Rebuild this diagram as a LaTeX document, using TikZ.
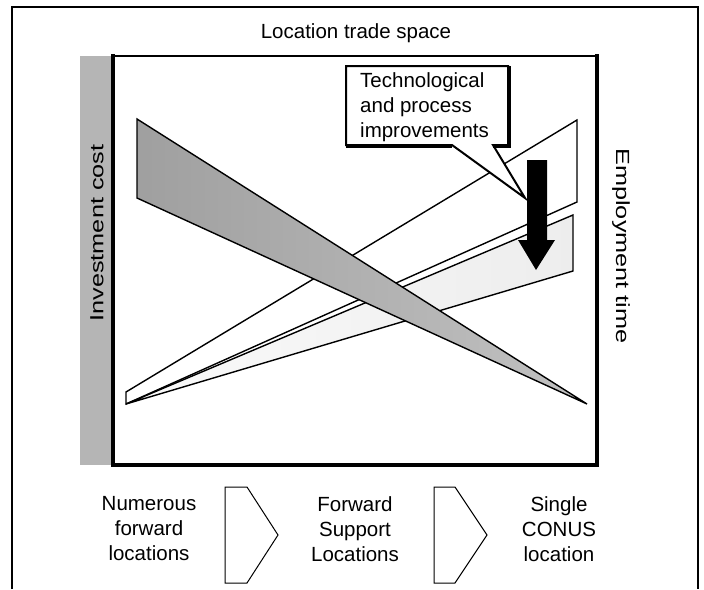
\documentclass[tikz,border=0pt]{standalone}
\usepackage{fontspec}
\setmainfont{Liberation Sans}
\usepackage{graphicx}
\begin{document}
\begin{tikzpicture}[x=1pt,y=-1pt,
  txt/.style={font=\fontsize{20.5}{25}\selectfont, inner sep=0pt, text=black},
  wedge/.style={draw=black, line width=1.4pt, line join=miter},
  chev/.style={draw=black, line width=1pt, fill=white},
  sidelabel/.style={font=\fontsize{19}{22}\selectfont, inner sep=0pt}
]
\useasboundingbox (0,0) rectangle (704,589);
% outer frame (open at bottom)
\draw[line width=1.2pt] (12,589) -- (12,7) -- (698,7) -- (698,589);
% title
\node[txt, anchor=base] (title) at (356,38) {Location trade space};
% gray strip
\fill[gray!58] (80,56) rectangle (113,465);
\node[sidelabel, rotate=90] (invcost) at (97,233) {\scalebox{1.33}[1]{Investment cost}};
% wedges
\draw[wedge, fill=white] (126,392) -- (577,120) -- (577,202) -- (126,404) -- cycle;
\draw[wedge, left color=gray!4, right color=gray!14] (126,404) -- (573,215) -- (573,271) -- cycle;
\shade[left color=gray!75, right color=gray!48] (137,119) -- (587,404) -- (137,198) -- cycle;
\draw[wedge] (137,119) -- (587,404) -- (137,198) -- cycle;
% inner box
\draw[line width=2pt] (113,56) -- (597,56);
\draw[line width=4pt] (113,54) -- (113,465) -- (597,465) -- (597,54);
% callout
\draw[line width=2pt, fill=white, line join=miter] (346,66) -- (508,66) -- (508,145) -- (493,145) -- (525,198) -- (452,145) -- (346,145) -- cycle;
\draw[line width=3.5pt] (509,66) -- (509,146) -- (493,146);
\draw[line width=3.5pt] (452,146) -- (346,146);
\node[txt, anchor=north west, align=left] (callout) at (360,72) {Technological\\and process\\improvements};
% black arrow
\fill[black] (527,160) -- (547,160) -- (547,240) -- (555,240) -- (536,270) -- (518,240) -- (527,240) -- cycle;
% employment time label
\node[sidelabel, rotate=-90] (emptime) at (621,246) {\scalebox{1.33}[1]{Employment time}};
% bottom chevrons
\draw[chev] (225,487) -- (247,487) -- (278,535) -- (247,583) -- (225,583) -- cycle;
\draw[chev] (434,487) -- (455,487) -- (487,535) -- (455,583) -- (434,583) -- cycle;
\node[txt, anchor=north, align=center] (numerous) at (149,496) {Numerous\\forward\\locations};
\node[txt, anchor=north, align=center] (forward) at (355,496) {Forward\\Support\\Locations};
\node[txt, anchor=north, align=center] (single) at (559,496) {Single\\CONUS\\location};
\end{tikzpicture}
\end{document}
